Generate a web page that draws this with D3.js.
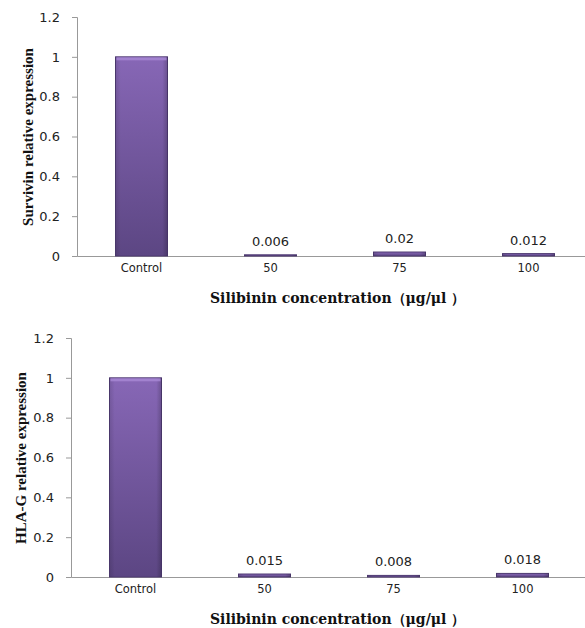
<!DOCTYPE html>
<html>
<head>
<meta charset="utf-8">
<script src="https://cdn.jsdelivr.net/npm/d3@7"></script>
<style>
  body { margin: 0; background: #fff; }
  svg { display: block; }
</style>
</head>
<body>
<div id="chart"></div>
<script>
const categories = ["Control", "50", "75", "100"];
const survivinValues = [1, 0.006, 0.02, 0.012];
const survivinLabels = ["", "0.006", "0.02", "0.012"];
const hlagValues = [1, 0.015, 0.008, 0.018];
const hlagLabels = ["", "0.015", "0.008", "0.018"];
const yTicks = [0, 0.2, 0.4, 0.6, 0.8, 1, 1.2];
const xTitle = "Silibinin concentration（μg/μl ）";

const svg = d3.select("#chart").append("svg")
    .attr("width", 585)
    .attr("height", 628);

const defs = svg.append("defs");
const grad = defs.append("linearGradient")
    .attr("id", "barFill")
    .attr("x1", 0).attr("y1", 0).attr("x2", 0).attr("y2", 1);
grad.append("stop").attr("offset", "0%").attr("stop-color", "#8767b6");
grad.append("stop").attr("offset", "100%").attr("stop-color", "#5c4683");

const side = defs.append("linearGradient")
    .attr("id", "barSide")
    .attr("x1", 0).attr("y1", 0).attr("x2", 1).attr("y2", 0);
side.append("stop").attr("offset", "0%").attr("stop-color", "#000").attr("stop-opacity", 0.12);
side.append("stop").attr("offset", "10%").attr("stop-color", "#000").attr("stop-opacity", 0);
side.append("stop").attr("offset", "90%").attr("stop-color", "#000").attr("stop-opacity", 0);
side.append("stop").attr("offset", "100%").attr("stop-color", "#000").attr("stop-opacity", 0.2);

function drawChart(cfg) {
    const g = svg.append("g");

    const x = d3.scaleBand()
        .domain(categories)
        .range([cfg.left, cfg.left + 4 * 129])
        .padding(0);

    const y = d3.scaleLinear()
        .domain([0, 1.2])
        .range([cfg.bottom, cfg.top]);

    // y axis
    const yAxis = g.append("g")
        .attr("transform", `translate(${cfg.left},0)`)
        .call(d3.axisLeft(y).tickValues(yTicks).tickSize(5).tickPadding(12)
            .tickFormat(d => d3.format("~g")(d)));
    yAxis.select(".domain").attr("stroke", "#999");
    yAxis.selectAll(".tick line").attr("stroke", "#999");
    yAxis.selectAll("text")
        .attr("fill", "#222")
        .style("font-family", "DejaVu Sans, Verdana, sans-serif")
        .style("font-size", "13px");

    // x axis
    const xAxis = g.append("g")
        .attr("transform", `translate(0,${cfg.bottom})`)
        .call(d3.axisBottom(x).tickSize(0).tickPadding(8));
    xAxis.select(".domain").attr("stroke", "#999");
    xAxis.selectAll("text")
        .attr("fill", "#222")
        .style("font-family", "DejaVu Sans, Verdana, sans-serif")
        .style("font-size", "11.5px");

    const bw = 52;
    const bars = g.append("g").selectAll("g")
        .data(categories)
        .join("g");

    bars.append("rect")
        .attr("x", d => x(d) + x.bandwidth() / 2 - bw / 2)
        .attr("y", (d, i) => y(cfg.values[i]))
        .attr("width", bw)
        .attr("height", (d, i) => cfg.bottom - y(cfg.values[i]))
        .attr("fill", "url(#barFill)")
        .attr("stroke", "#4e3a72")
        .attr("stroke-width", 1);

    bars.append("rect")
        .attr("x", d => x(d) + x.bandwidth() / 2 - bw / 2)
        .attr("y", (d, i) => y(cfg.values[i]))
        .attr("width", bw)
        .attr("height", (d, i) => cfg.bottom - y(cfg.values[i]))
        .attr("fill", "url(#barSide)");

    // top bevel highlight on the tall bar
    bars.filter((d, i) => cfg.values[i] > 0.1)
        .append("rect")
        .attr("x", d => x(d) + x.bandwidth() / 2 - bw / 2 + 1)
        .attr("y", (d, i) => y(cfg.values[i]) + 0.5)
        .attr("width", bw - 2)
        .attr("height", 3)
        .attr("fill", "#a98ad6")
        .attr("opacity", 0.8);

    bars.append("text")
        .attr("x", d => x(d) + x.bandwidth() / 2)
        .attr("y", (d, i) => y(cfg.values[i]) - 9)
        .attr("text-anchor", "middle")
        .attr("fill", "#222")
        .style("font-family", "DejaVu Sans, Verdana, sans-serif")
        .style("font-size", "13px")
        .text((d, i) => cfg.labels[i]);

    // axis titles
    g.append("text")
        .attr("transform", `translate(${cfg.yTitleX},${cfg.yTitleY}) rotate(-90)`)
        .attr("text-anchor", "middle")
        .style("font-family", "Liberation Serif, Times New Roman, serif")
        .style("font-weight", "bold")
        .style("font-size", "15px")
        .attr("fill", "#111")
        .text(cfg.yTitle);

    g.append("text")
        .attr("x", 210)
        .attr("y", cfg.bottom + 47)
        .style("font-family", "DejaVu Serif, Cambria, serif")
        .style("font-weight", "bold")
        .style("font-size", "14px")
        .attr("fill", "#111")
        .text(xTitle);
}

drawChart({
    left: 77, top: 17, bottom: 256,
    values: survivinValues, labels: survivinLabels,
    yTitle: "Survivin relative expression", yTitleX: 33, yTitleY: 137
});

drawChart({
    left: 71, top: 338, bottom: 577,
    values: hlagValues, labels: hlagLabels,
    yTitle: "HLA-G relative expression", yTitleX: 26, yTitleY: 458
});
</script>
</body>
</html>
